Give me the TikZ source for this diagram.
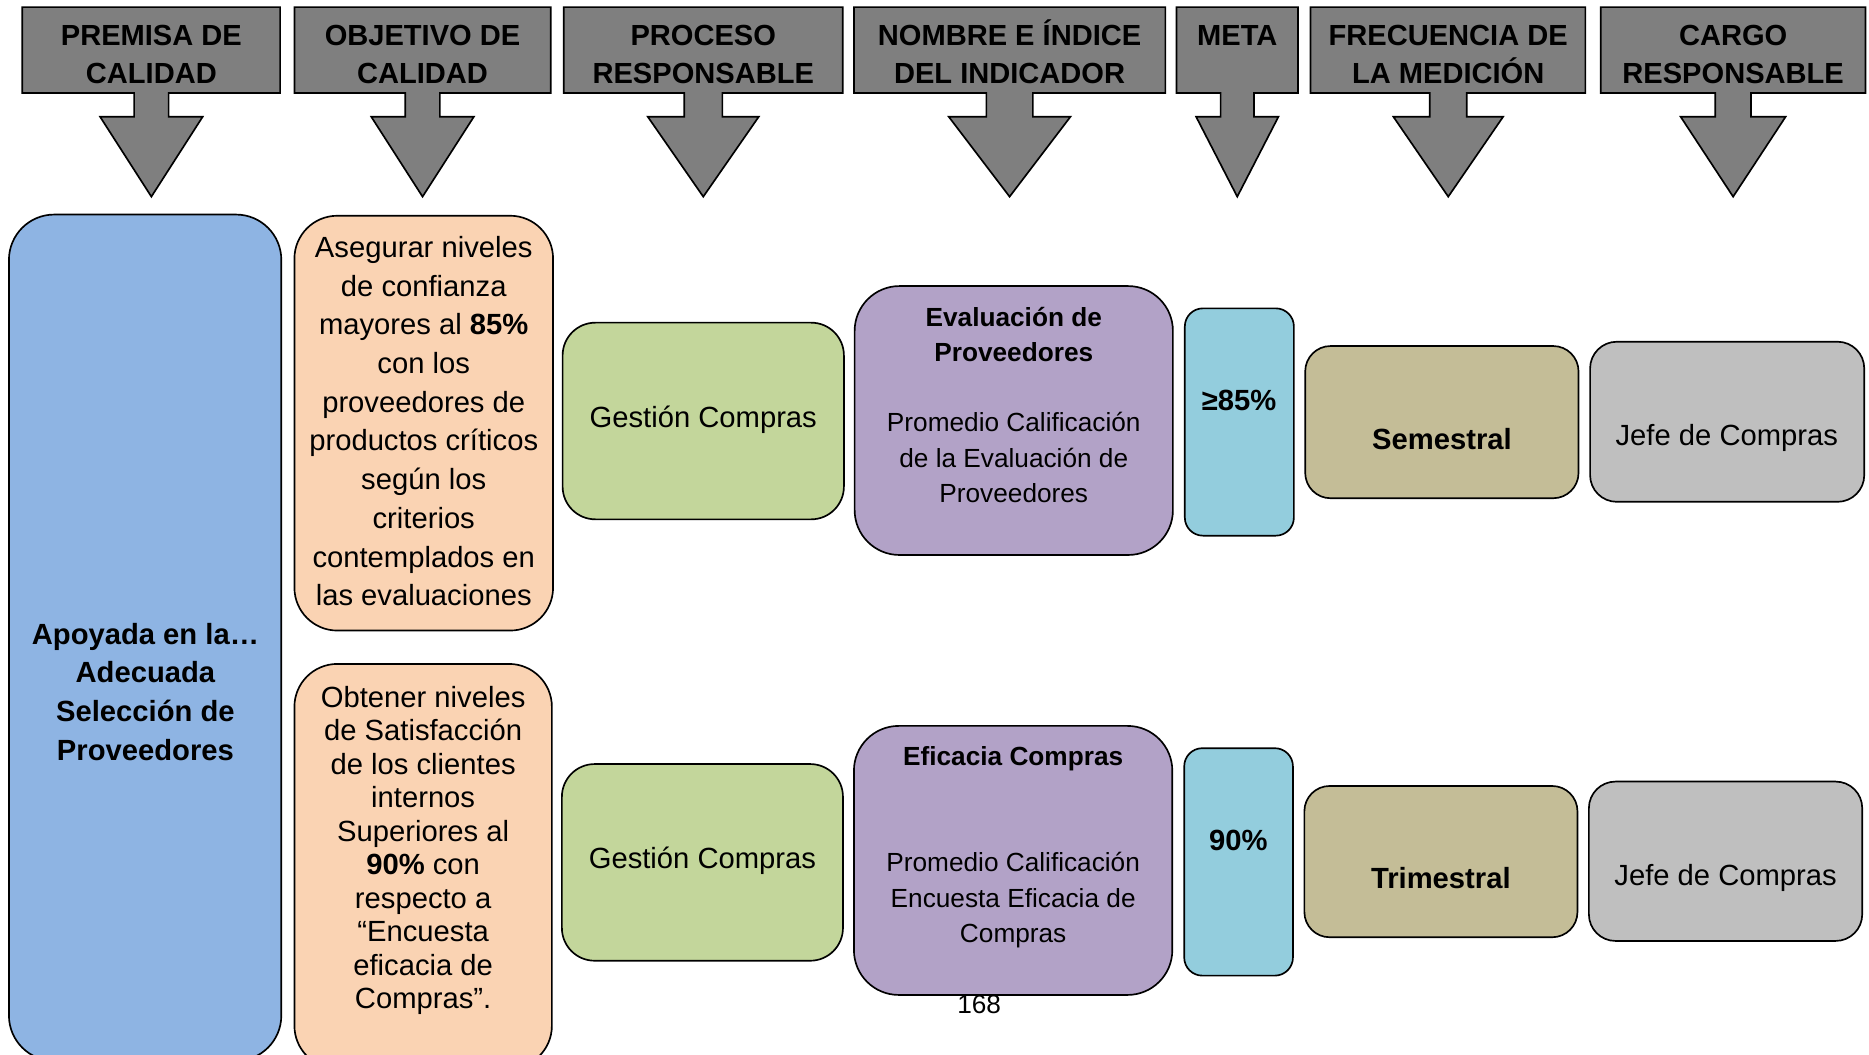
\documentclass[tikz,border=0pt]{standalone}
\usepackage{fontspec}
\setmainfont{Liberation Sans}
\definecolor{hdrgray}{HTML}{7F7F7F}
\definecolor{cblue}{HTML}{8EB4E3}
\definecolor{cpeach}{HTML}{FAD3B3}
\definecolor{cgreen}{HTML}{C3D69B}
\definecolor{cpurple}{HTML}{B2A2C7}
\definecolor{caqua}{HTML}{93CDDD}
\definecolor{ctan}{HTML}{C4BD97}
\definecolor{cgray}{HTML}{BFBFBF}

% rounded panel from its corners: name, x1, y1, x2, y2, fill, corner radius
\newcommand{\panel}[7]{%
  \node[panel, fill=#6, rounded corners=#7pt, minimum width={#4-#2}, minimum height={#5-#3}]
    (#1) at ({(#2+#4)/2},{(#3+#5)/2}) {};}

% column heading with a down-arrow callout: name, x1, x2, centre, stem half width, head half width, text
\newcommand{\heading}[7]{%
  \draw[hdrshape] (#2,6) -- (#3,6) -- (#3,78) -- ({#4+#5},78) -- ({#4+#5},98) -- ({#4+#6},98)
    -- (#4,165) -- ({#4-#6},98) -- ({#4-#5},98) -- ({#4-#5},78) -- (#2,78) -- cycle;
  \node[hdrtext] (#1) at (#4,47.7) {#7};}

\begin{document}
\begin{tikzpicture}[x=1pt,y=-1pt,
  panel/.style={rectangle, draw=black, line width=1.4pt, inner sep=0pt, outer sep=0pt},
  hdrshape/.style={draw=black, line width=1.4pt, fill=hdrgray, line join=miter},
  hdrtext/.style={align=center, inner sep=0pt, font=\fontsize{24.4}{31.5}\selectfont\bfseries},
  body/.style={align=center, inner sep=0pt, font=\fontsize{24.5}{32.5}\selectfont},
  bodyb/.style={body, font=\fontsize{24.5}{32.5}\selectfont\bfseries},
  indic/.style={align=center, inner sep=0pt, font=\fontsize{22}{29.6}\selectfont}]
\useasboundingbox (0,0) rectangle (1568,885);
\clip (0,0) rectangle (1568,885);

% column headings
\heading{hpremisa}{18.6}{235}{127}{14.5}{43}{\strut PREMISA DE\\\strut CALIDAD}
\heading{hobjetivo}{247}{462}{354.5}{14.5}{43}{\strut OBJETIVO DE\\\strut CALIDAD}
\heading{hproceso}{473}{707}{590}{16}{46.5}{\strut PROCESO\\\strut RESPONSABLE}
\heading{hnombre}{716.5}{977.7}{847}{19.5}{51}{\strut NOMBRE E ÍNDICE\\\strut DEL INDICADOR}
\heading{hmeta}{987}{1089}{1038}{14}{34.5}{\strut META\\\strut}
\heading{hfrec}{1099.5}{1330}{1215}{15.5}{46}{\strut FRECUENCIA DE\\\strut LA MEDICIÓN}
\heading{hcargo}{1343}{1565}{1454}{15}{44}{\strut CARGO\\\strut RESPONSABLE}

% quality premise
\panel{premisa}{7.5}{180}{236}{890}{cblue}{38}
\node[bodyb, font=\fontsize{24.5}{32.7}\selectfont\bfseries] (tpremisa) at (122,582.8)
  {\strut Apoyada en la…\\\strut Adecuada\\\strut Selección de\\\strut Proveedores};

% first objective row
\panel{obj1}{247}{181}{464}{529}{cpeach}{36}
\node[body] (tobj1) at (355.5,355.6)
  {\strut Asegurar niveles\\\strut de confianza\\\strut mayores al \textbf{85\%}\\\strut con los\\
   \strut proveedores de\\\strut productos críticos\\\strut según los\\\strut criterios\\
   \strut contemplados en\\\strut las evaluaciones};
\panel{proc1}{472}{270.7}{708}{435.7}{cgreen}{27.5}
\node[body] (tproc1) at (590,351.8) {\strut Gestión Compras};
\panel{ind1}{717}{240}{984}{465.6}{cpurple}{37.6}
\node[indic] (tind1) at (850.5,341.6)
  {\strut\textbf{Evaluación de}\\\strut\textbf{Proveedores}\\\strut\\
   \strut Promedio Calificación\\\strut de la Evaluación de\\\strut Proveedores};
\panel{meta1}{994}{258.7}{1085.5}{449.4}{caqua}{15.2}
\node[bodyb] (tmeta1) at (1039.5,337.9) {\strut ≥85\%};
\panel{frec1}{1095}{290.3}{1324.3}{418}{ctan}{21.3}
\node[bodyb] (tfrec1) at (1209.7,370.9) {\strut Semestral};
\panel{cargo1}{1334}{286.7}{1564}{421}{cgray}{22.4}
\node[body] (tcargo1) at (1448.7,367.3) {\strut Jefe de Compras};

% second objective row
\panel{obj2}{247}{557}{463}{896.5}{cpeach}{36}
\node[body, font=\fontsize{24.5}{28.1}\selectfont] (tobj2) at (355,714.2)
  {\strut Obtener niveles\\\strut de Satisfacción\\\strut de los clientes\\\strut internos\\
   \strut Superiores al\\\strut\textbf{90\%} con\\\strut respecto a\\\strut “Encuesta\\
   \strut eficacia de\\\strut Compras”.};
\panel{proc2}{471.4}{641}{707.2}{806}{cgreen}{27.5}
\node[body] (tproc2) at (589.3,722.3) {\strut Gestión Compras};
\panel{ind2}{716.4}{609}{983.5}{834.7}{cpurple}{37.6}
\node[indic, font=\fontsize{22}{29.8}\selectfont] (tind2) at (850,710.5)
  {\strut\textbf{Eficacia Compras}\\\strut\\\strut\\
   \strut Promedio Calificación\\\strut Encuesta Eficacia de\\\strut Compras};
\panel{meta2}{993.5}{627.7}{1084.7}{818.5}{caqua}{15.2}
\node[bodyb] (tmeta2) at (1039,706.9) {\strut 90\%};
\panel{frec2}{1094.3}{659.4}{1323.4}{786.3}{ctan}{21.2}
\node[bodyb] (tfrec2) at (1208.8,739.1) {\strut Trimestral};
\panel{cargo2}{1333}{655.7}{1562.3}{789.4}{cgray}{22.3}
\node[body] (tcargo2) at (1447.7,736.3) {\strut Jefe de Compras};

% page number
\node[inner sep=0pt, font=\fontsize{22}{26}\selectfont] (pagenum) at (821.5,845) {\strut 168};
\end{tikzpicture}
\end{document}
